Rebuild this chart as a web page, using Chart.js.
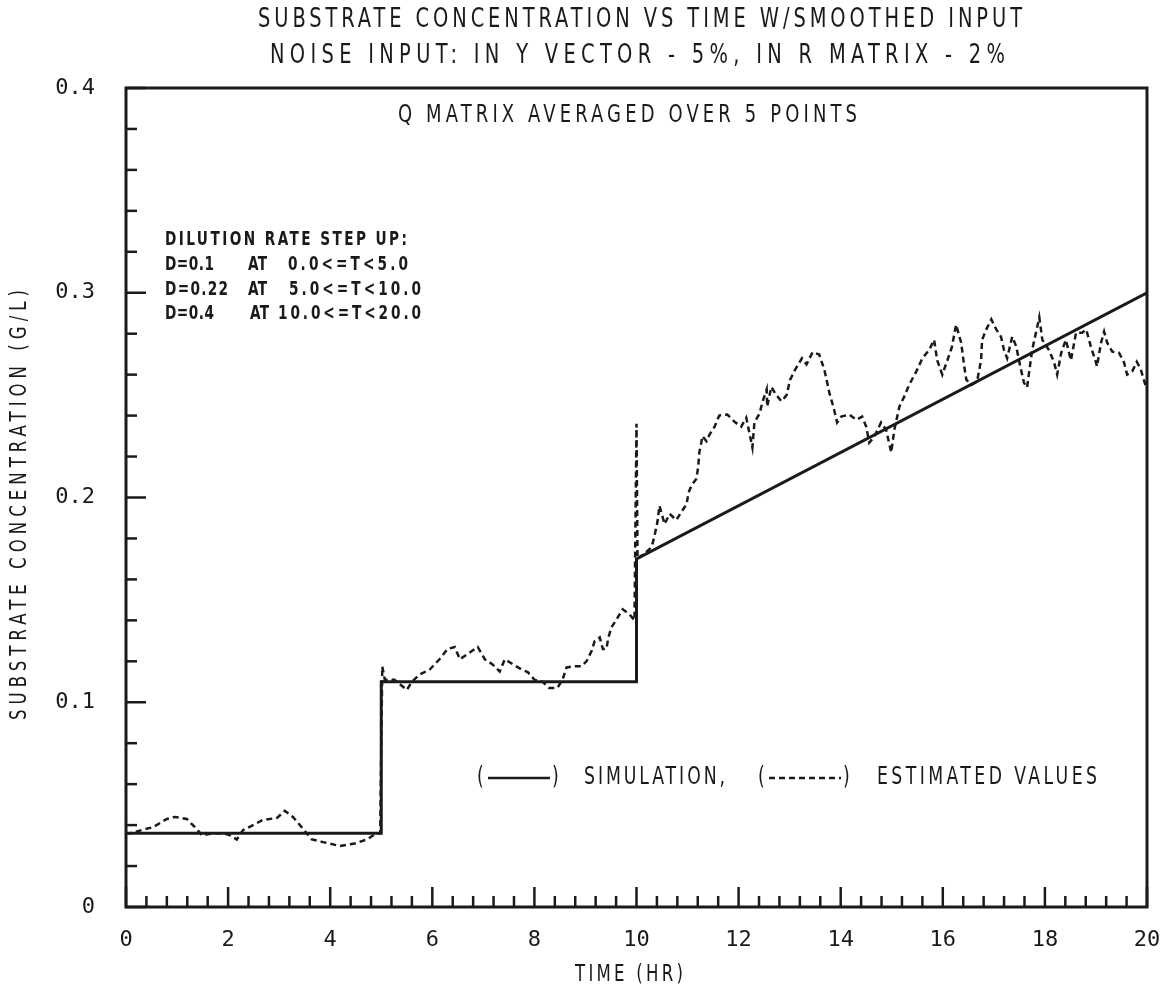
<!DOCTYPE html>
<html>
<head>
<meta charset="utf-8">
<script src="https://cdn.jsdelivr.net/npm/chart.js@4.4.1/dist/chart.umd.min.js"></script>
<style>
	html, body { margin: 0; padding: 0; background: #fff; }
	#wrap { width: 1176px; height: 1000px; }
</style>
</head>
<body>
<div id="wrap"><canvas id="chart" width="1176" height="1000"></canvas></div>
<script>
// simulation (solid) - step up in dilution rate at T=5 and T=10
const simTime = [0, 5, 5, 10, 10, 20];
const simConc = [0.036, 0.036, 0.110, 0.110, 0.170, 0.300];

// estimated values (dashed)
const estTime = [
	0.0, 0.08, 0.37, 0.53, 0.80, 0.96, 1.19, 1.35, 1.49, 1.70,
	1.90, 2.04, 2.17, 2.29, 2.49, 2.68, 2.96, 3.11, 3.27, 3.44,
	3.64, 3.86, 4.19, 4.48, 4.72, 4.91, 4.98, 5.02, 5.07, 5.26,
	5.50, 5.60, 5.75, 5.95, 6.14, 6.30, 6.44, 6.54, 6.69, 6.89,
	7.03, 7.18, 7.32, 7.42, 7.58, 7.75, 7.87, 8.00, 8.16, 8.29,
	8.45, 8.55, 8.63, 8.77, 8.92, 9.02, 9.12, 9.18, 9.28, 9.34,
	9.41, 9.45, 9.51, 9.61, 9.73, 9.86, 9.96, 10.0, 10.02, 10.25,
	10.31, 10.35, 10.41, 10.45, 10.55, 10.65, 10.78, 10.88, 10.98, 11.02,
	11.08, 11.17, 11.21, 11.23, 11.27, 11.29, 11.37, 11.43, 11.53, 11.62,
	11.78, 11.92, 12.05, 12.15, 12.21, 12.27, 12.31, 12.41, 12.47, 12.55,
	12.56, 12.64, 12.74, 12.84, 12.94, 13.01, 13.12, 13.24, 13.33, 13.45,
	13.58, 13.68, 13.78, 13.87, 13.93, 14.01, 14.17, 14.31, 14.42, 14.50,
	14.56, 14.66, 14.79, 14.89, 14.99, 15.05, 15.15, 15.24, 15.34, 15.48,
	15.60, 15.73, 15.83, 15.89, 15.99, 16.09, 16.18, 16.26, 16.36, 16.42,
	16.46, 16.56, 16.67, 16.75, 16.77, 16.85, 16.95, 17.05, 17.14, 17.20,
	17.26, 17.36, 17.44, 17.50, 17.59, 17.65, 17.75, 17.85, 17.89, 17.95,
	18.08, 18.18, 18.24, 18.32, 18.41, 18.51, 18.61, 18.73, 18.81, 18.90,
	19.00, 19.02, 19.10, 19.16, 19.22, 19.32, 19.45, 19.55, 19.61, 19.71,
	19.80, 19.88, 19.98
];
const estConc = [
	0.036, 0.036, 0.038, 0.039, 0.043, 0.044, 0.043, 0.039, 0.035, 0.036,
	0.036, 0.035, 0.033, 0.0375, 0.040, 0.0425, 0.0435, 0.047, 0.044, 0.039,
	0.033, 0.0317, 0.0298, 0.031, 0.033, 0.036, 0.036, 0.1175, 0.111, 0.111,
	0.106, 0.110, 0.1135, 0.116, 0.121, 0.126, 0.127, 0.121, 0.1235, 0.127,
	0.121, 0.1185, 0.115, 0.121, 0.1185, 0.116, 0.1147, 0.111, 0.110, 0.107,
	0.107, 0.111, 0.117, 0.1176, 0.1176, 0.120, 0.125, 0.1298, 0.1317, 0.126,
	0.126, 0.1317, 0.1366, 0.1405, 0.1454, 0.143, 0.140, 0.236, 0.170, 0.1746,
	0.177, 0.181, 0.188, 0.196, 0.187, 0.192, 0.189, 0.193, 0.1966, 0.2024,
	0.206, 0.209, 0.215, 0.222, 0.227, 0.230, 0.2275, 0.2307, 0.2346, 0.240,
	0.2405, 0.237, 0.2346, 0.239, 0.2317, 0.2244, 0.2366, 0.241, 0.2468, 0.2527,
	0.2444, 0.254, 0.250, 0.247, 0.250, 0.2576, 0.263, 0.268, 0.265, 0.271,
	0.2698, 0.2624, 0.251, 0.243, 0.2366, 0.2395, 0.2405, 0.238, 0.2395, 0.2346,
	0.2268, 0.2298, 0.2366, 0.233, 0.222, 0.233, 0.2444, 0.249, 0.255, 0.2615,
	0.268, 0.272, 0.277, 0.267, 0.260, 0.267, 0.2737, 0.2844, 0.2756, 0.264,
	0.2576, 0.255, 0.2566, 0.267, 0.277, 0.282, 0.287, 0.282, 0.2785, 0.272,
	0.268, 0.2785, 0.2737, 0.266, 0.256, 0.2537, 0.272, 0.2834, 0.288, 0.277,
	0.272, 0.266, 0.260, 0.2707, 0.277, 0.267, 0.2805, 0.2805, 0.282, 0.2737,
	0.266, 0.264, 0.2756, 0.281, 0.2756, 0.2712, 0.2707, 0.266, 0.260, 0.2615,
	0.2663, 0.2624, 0.254
];

const xTicks = [0, 2, 4, 6, 8, 10, 12, 14, 16, 18, 20];
const yTicks = [0, 0.1, 0.2, 0.3, 0.4];

const titleLines = [
	'SUBSTRATE CONCENTRATION VS TIME W/SMOOTHED INPUT',
	'NOISE INPUT: IN Y VECTOR - 5%, IN R MATRIX - 2%'
];
const subTitle = 'Q MATRIX AVERAGED OVER 5 POINTS';
const noteHead = 'DILUTION RATE STEP UP:';
const noteRates = ['D=0.1', 'D=0.22', 'D=0.4'];
const noteRanges = ['0.0<=T<5.0', '5.0<=T<10.0', '10.0<=T<20.0'];

const ink = '#1a1a1a';
const plotFont = '"DejaVu Sans Condensed", "DejaVu Sans", sans-serif';
const monoFont = '"DejaVu Sans Mono", monospace';
const squeeze = 0.8; // plotter letters are tall and narrow

function pairs(xs, ys) {
	return xs.map(function(x, i) { return { x: x, y: ys[i] }; });
}

// draw narrow text spread over a given width (plotter lettering is spaced wide)
function spacedText(ctx, str, x1, x2, y, size, weight) {
	ctx.font = (weight || 'normal') + ' ' + size + 'px ' + plotFont;
	ctx.letterSpacing = '0px';
	const w = ctx.measureText(str).width * squeeze;
	const gap = str.length > 1 ? (x2 - x1 - w) / (str.length - 1) : 0;
	ctx.save();
	ctx.translate(x1, y);
	ctx.scale(squeeze, 1);
	ctx.letterSpacing = (gap / squeeze) + 'px';
	ctx.textAlign = 'left';
	ctx.textBaseline = 'middle';
	ctx.fillText(str, 0, 0);
	ctx.restore();
	ctx.letterSpacing = '0px';
}

function line(ctx, x1, y1, x2, y2) {
	ctx.beginPath();
	ctx.moveTo(x1, y1);
	ctx.lineTo(x2, y2);
	ctx.stroke();
}

const paper = {
	id: 'paper',
	afterDraw: function(chart) {
		const ctx = chart.ctx;
		const a = chart.chartArea;
		const xs = chart.scales.x;
		const ys = chart.scales.y;
		ctx.save();
		ctx.strokeStyle = ink;
		ctx.fillStyle = ink;

		// frame
		ctx.lineWidth = 3;
		ctx.strokeRect(a.left, a.top, a.right - a.left, a.bottom - a.top);

		// inward ticks: 0.4 hr / 0.02 g/l
		ctx.lineWidth = 2.5;
		for (let i = 0; i <= 50; i++) {
			const px = xs.getPixelForValue(i * 0.4);
			line(ctx, px, a.bottom, px, a.bottom - (i % 5 === 0 ? 20 : 11));
		}
		for (let i = 0; i <= 20; i++) {
			const py = ys.getPixelForValue(i * 0.02);
			line(ctx, a.left, py, a.left + (i % 5 === 0 ? 20 : 11), py);
		}

		// titles
		spacedText(ctx, titleLines[0], 258, 1022, 20, 27);
		spacedText(ctx, titleLines[1], 270, 1005, 56, 27);
		spacedText(ctx, subTitle, 398, 857, 115, 25);

		// axis titles
		spacedText(ctx, 'TIME (HR)', 575, 683, 975, 23);
		ctx.save();
		ctx.translate(20, 505);
		ctx.rotate(-Math.PI / 2);
		spacedText(ctx, 'SUBSTRATE CONCENTRATION (G/L)', -215, 215, 0, 23);
		ctx.restore();

		// dilution rate note
		spacedText(ctx, noteHead, 165, 407, 240, 19, 'bold');
		const rows = [265, 290, 314];
		const rateX = [[165, 214], [165, 228], [165, 214]];
		const atX = [[248, 267], [248, 267], [250, 269]];
		const rangeX = [[288, 408], [289, 421], [278, 421]];
		for (let i = 0; i < 3; i++) {
			spacedText(ctx, noteRates[i], rateX[i][0], rateX[i][1], rows[i], 19, 'bold');
			spacedText(ctx, 'AT', atX[i][0], atX[i][1], rows[i], 19, 'bold');
			spacedText(ctx, noteRanges[i], rangeX[i][0], rangeX[i][1], rows[i], 19, 'bold');
		}

		// legend
		const ly = 778;
		spacedText(ctx, '(', 477, 485, ly, 24);
		ctx.lineWidth = 2.5;
		line(ctx, 488, ly, 550, ly);
		spacedText(ctx, ')', 552, 560, ly, 24);
		spacedText(ctx, 'SIMULATION,', 584, 725, ly, 24);
		spacedText(ctx, '(', 758, 766, ly, 24);
		ctx.setLineDash([6, 4]);
		line(ctx, 769, ly, 841, ly);
		ctx.setLineDash([]);
		spacedText(ctx, ')', 843, 851, ly, 24);
		spacedText(ctx, 'ESTIMATED VALUES', 877, 1097, ly, 24);

		ctx.restore();
	}
};

new Chart(document.getElementById('chart'), {
	type: 'scatter',
	data: {
		datasets: [
			{
				label: 'SIMULATION',
				data: pairs(simTime, simConc),
				showLine: true,
				borderColor: ink,
				borderWidth: 3,
				pointRadius: 0,
				tension: 0
			},
			{
				label: 'ESTIMATED VALUES',
				data: pairs(estTime, estConc),
				showLine: true,
				borderColor: ink,
				borderWidth: 2.5,
				borderDash: [6, 4],
				pointRadius: 0,
				tension: 0
			}
		]
	},
	options: {
		responsive: false,
		animation: false,
		devicePixelRatio: 1,
		layout: { padding: { top: 88, right: 29, left: 0, bottom: 0 } },
		plugins: {
			legend: { display: false },
			tooltip: { enabled: false }
		},
		scales: {
			x: {
				type: 'linear',
				min: 0,
				max: 20,
				afterBuildTicks: function(scale) { scale.ticks = xTicks.map(function(v) { return { value: v }; }); },
				afterFit: function(scale) { scale.height = 93; },
				grid: { display: false },
				border: { display: false },
				ticks: {
					color: ink,
					padding: 12,
					maxRotation: 0,
					font: { family: monoFont, size: 22 }
				}
			},
			y: {
				min: 0,
				max: 0.4,
				afterBuildTicks: function(scale) { scale.ticks = yTicks.map(function(v) { return { value: v }; }); },
				afterFit: function(scale) { scale.width = 126; },
				grid: { display: false },
				border: { display: false },
				ticks: {
					color: ink,
					padding: 23,
					font: { family: monoFont, size: 22 },
					callback: function(v) { return v === 0 ? '0' : v.toFixed(1); }
				}
			}
		}
	},
	plugins: [paper]
});
</script>
</body>
</html>
